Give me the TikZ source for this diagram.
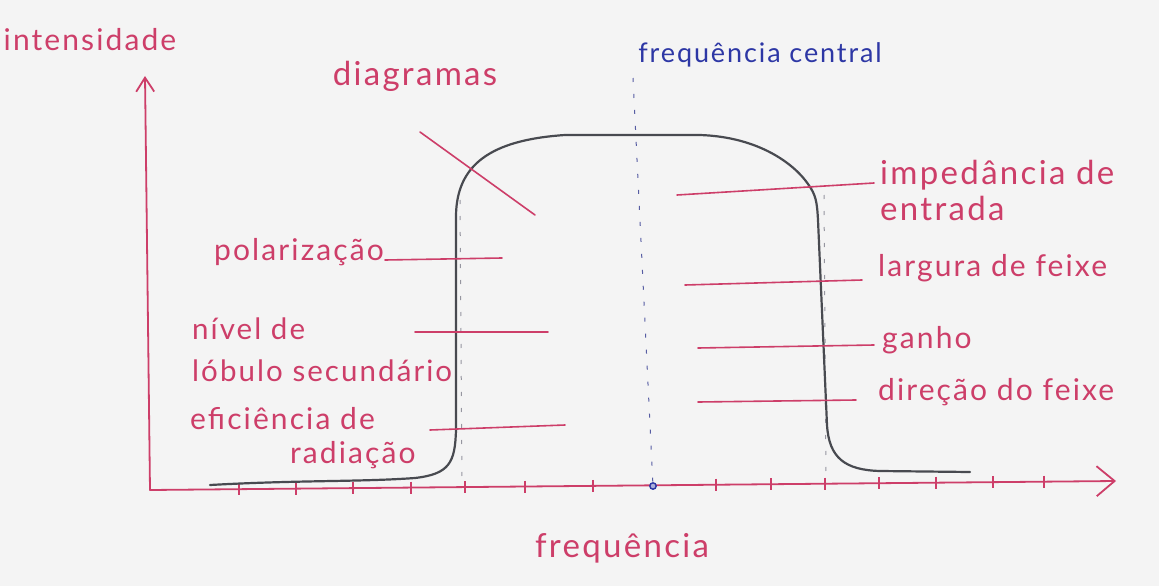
\documentclass[tikz,border=0pt]{standalone}
\usepackage{fontspec}
\setmainfont{Lato}[LetterSpace=7]
\usetikzlibrary{arrows.meta}
\definecolor{ink}{RGB}{205,62,105}
\definecolor{bink}{RGB}{45,55,165}
\definecolor{pencil}{RGB}{72,74,80}
\definecolor{paper}{RGB}{244,244,244}
\definecolor{dotgray}{RGB}{150,150,160}
\tikzset{
  lbl/.style={text=ink, inner sep=0pt, font=\fontsize{30}{42}\selectfont},
  biglbl/.style={lbl, font=\fontsize{33}{36}\selectfont},
  blbl/.style={text=bink, inner sep=0pt, font=\fontsize{27}{34}\selectfont},
  axisline/.style={draw=ink, line width=1.8pt, line cap=round},
  leader/.style={draw=ink, line width=1.6pt, line cap=round},
  curve/.style={draw=pencil, line width=2.2pt, line cap=round, line join=round},
  guide/.style={draw=dotgray, line width=1pt, dash pattern=on 4pt off 12pt},
  tick/.style={draw=ink, line width=1.3pt},
}
\begin{document}
\begin{tikzpicture}[x=1pt,y=-1pt]
\useasboundingbox (0,0) rectangle (1159,586);
\fill[paper] (0,0) rectangle (1159,586);

% axes
\coordinate (origin) at (150,490);
\coordinate (ytop) at (145,76);
\coordinate (xend) at (1116,481);
\draw[axisline, -{Straight Barb[length=14pt,width=18pt,line width=1.8pt]}] (origin) -- (ytop);
\draw[axisline, -{Straight Barb[length=18pt,width=30pt,line width=1.8pt]}] (origin) -- (xend);
\foreach \x in {239,296,353,411,465,525,593,716,771,825,879,936,993,1044}{
  \pgfmathsetmacro{\yy}{490-(\x-150)*0.00930}
  \draw[tick] (\x,\yy-6) -- (\x,\yy+6);
}

% guides
\coordinate (fc) at (653,486);
\coordinate (fctop) at (633,78);
\draw[guide, draw=bink!60!dotgray] (fctop) -- (fc);
\draw[bink, line width=1.4pt, fill=bink!40] (fc) circle (3.2pt);
\coordinate (lgtop) at (460,200);
\coordinate (lgbot) at (462,486);
\coordinate (rgtop) at (824,195);
\coordinate (rgbot) at (826,483);
\draw[guide] (lgtop) -- (lgbot);
\draw[guide] (rgtop) -- (rgbot);

% curve
\draw[curve] (210,485) .. controls (300,480) and (360,482) .. (415,478)
  .. controls (450,474) and (455,462) .. (456,430) -- (456,215)
  .. controls (457,165) and (490,140) .. (565,135) -- (700,135)
  .. controls (760,137) and (795,165) .. (808,184)
  .. controls (816,195) and (817,202) .. (818,220) -- (827,425)
  .. controls (829,458) and (845,470) .. (880,471) -- (970,472);

% texts
\node[lbl] (yl) at (90,40) {intensidade};
\node[biglbl] (xl) at (622,548) {frequência};
\node[biglbl] (diag) at (415,76) {diagramas};
\node[blbl] (fcl) at (760,55) {frequência central};

\node[lbl, anchor=west] (pol) at (214,252) {polarização};
\node[lbl, anchor=north west, align=left, font=\fontsize{29.5}{42}\selectfont] (nivel) at (192,318) {nível de\\lóbulo secundário};
\node[lbl, anchor=north west, align=left] (efic) at (190,407) {eficiência de\\[-8pt]\hspace*{100pt}radiação};

\node[biglbl, anchor=north west, align=left] (imp) at (880,160) {impedância de\\entrada};
\node[lbl, anchor=west] (larg) at (878,268) {largura de feixe};
\node[lbl, anchor=west] (gan) at (882,340) {ganho};
\node[lbl, anchor=west] (dir) at (878,392) {direção do feixe};

% leaders
\coordinate (diagA) at (420,132);
\coordinate (diagB) at (535,215);
\draw[leader] (diagA) -- (diagB);

\coordinate (polA) at (385,260); \coordinate (polB) at (502,258);
\coordinate (nivA) at (415,332); \coordinate (nivB) at (548,332);
\coordinate (efiA) at (430,430); \coordinate (efiB) at (565,425);
\draw[leader] (polA) -- (polB);
\draw[leader] (nivA) -- (nivB);
\draw[leader] (efiA) -- (efiB);

\coordinate (impA) at (677,195); \coordinate (impB) at (874,183);
\coordinate (larA) at (685,285); \coordinate (larB) at (862,280);
\coordinate (ganA) at (698,348); \coordinate (ganB) at (874,345);
\coordinate (dirA) at (698,402); \coordinate (dirB) at (856,400);
\draw[leader] (impA) -- (impB);
\draw[leader] (larA) -- (larB);
\draw[leader] (ganA) -- (ganB);
\draw[leader] (dirA) -- (dirB);
\end{tikzpicture}
\end{document}
